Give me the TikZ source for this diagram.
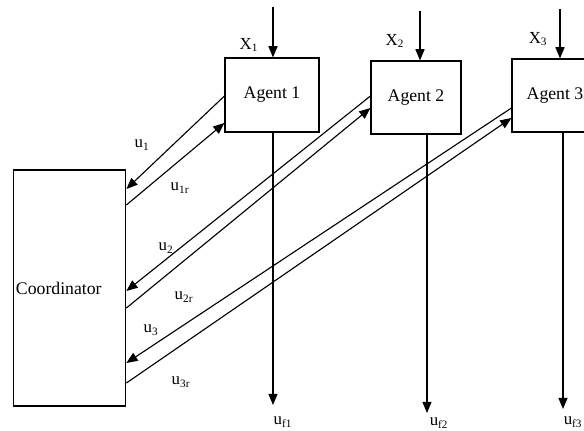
\documentclass[tikz,border=0pt]{standalone}
\usepackage{fontspec}
\setmainfont{Liberation Serif}
\usepackage{tikz}
\usetikzlibrary{positioning,arrows.meta}

\begin{document}
\begin{tikzpicture}[x=0.025cm, y=-0.025cm, line width=0.8pt,
    >={Triangle[length=8pt,width=6.5pt]},
    box/.style={draw, rectangle, inner sep=2pt, font=\fontsize{12.6}{15}\selectfont},
    lbl/.style={inner sep=0pt, font=\fontsize{12}{14}\selectfont}]
  \useasboundingbox (0,0) rectangle (584,431);

  % boxes
  \node[box, minimum width=2.775cm, minimum height=5.9cm, text width=2.675cm] (coord) at (69.5,288) {Coordinator};
  \node[box, minimum width=2.35cm, minimum height=1.85cm] (a1) at (272,95) {Agent 1};
  \node[box, minimum width=2.25cm, minimum height=1.825cm] (a2) at (416,97.5) {Agent 2};
  \node[box, minimum width=2.15cm, minimum height=1.825cm] (a3) at (555,95.5) {Agent 3};

  % inputs and outputs
  \coordinate (in1) at (273,7);
  \coordinate (in2) at (420,11);
  \coordinate (in3) at (560,9);
  \coordinate (out1) at (273,405);
  \coordinate (out2) at (427,413);
  \coordinate (out3) at (563,409);

  \draw[->] (in1) -- (in1 |- a1.north);
  \draw[->] (in2) -- (in2 |- a2.north);
  \draw[->] (in3) -- (in3 |- a3.north);
  \draw[->] (out1 |- a1.south) -- (out1);
  \draw[->] (out2 |- a2.south) -- (out2);
  \draw[->] (out3 |- a3.south) -- (out3);

  \node[lbl] (x1) at (249,45) {X\textsubscript{1}};
  \node[lbl] (x2) at (395,41) {X\textsubscript{2}};
  \node[lbl] (x3) at (538,39) {X\textsubscript{3}};
  \node[lbl] (uf1) at (283,422) {u\textsubscript{f1}};
  \node[lbl] (uf2) at (439,423) {u\textsubscript{f2}};
  \node[lbl] (uf3) at (573,422) {u\textsubscript{f3}};

  % agent <-> coordinator
  \draw[->] (a1.west |- 0,96) -- (coord.east |- 0,189);
  \draw[->] (coord.east |- 0,205) -- (a1.west |- 0,123);
  \draw[->] (a2.west |- 0,96) -- (coord.east |- 0,291);
  \draw[->] (coord.east |- 0,308) -- (a2.west |- 0,108);
  \draw[->] (a3.west |- 0,108) -- (coord.east |- 0,363);
  \draw[->] (coord.east |- 0,383) -- (a3.west |- 0,118);

  \node[lbl] (u1) at (142,145) {u\textsubscript{1}};
  \node[lbl] (u1r) at (180,188) {u\textsubscript{1r}};
  \node[lbl] (u2) at (166,248) {u\textsubscript{2}};
  \node[lbl] (u2r) at (184,297) {u\textsubscript{2r}};
  \node[lbl] (u3) at (151,330) {u\textsubscript{3}};
  \node[lbl] (u3r) at (181,382) {u\textsubscript{3r}};
\end{tikzpicture}
\end{document}
